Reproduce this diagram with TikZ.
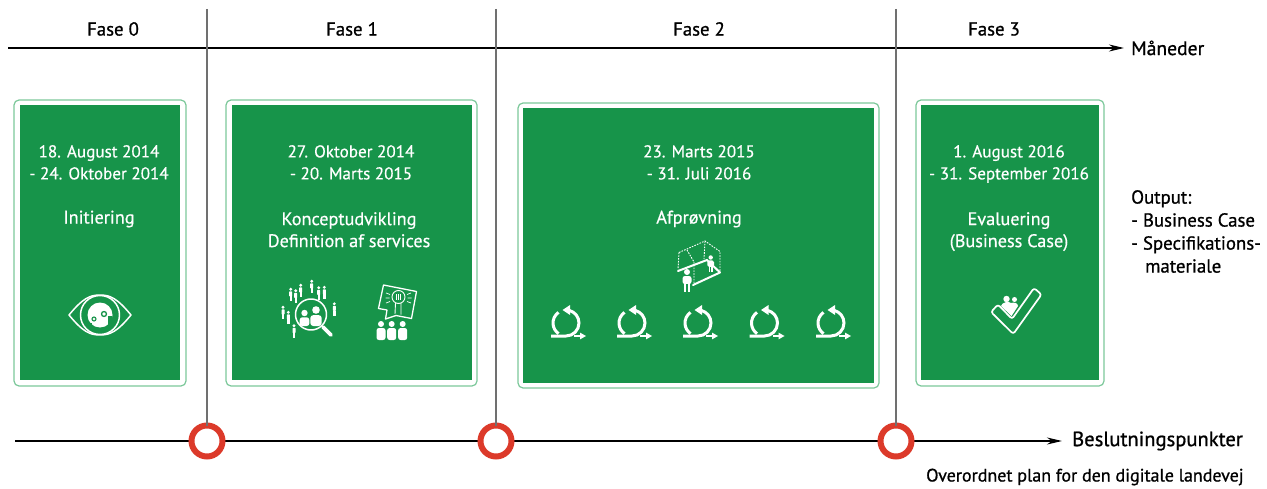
\documentclass[tikz,border=0pt]{standalone}
\usepackage{fontspec}
\setmainfont{PT Sans}
\newfontfamily\blackface{PT Sans}[FakeBold=0.9]
\newfontfamily\whiteface{PT Sans}[FakeBold=0.5]
\usetikzlibrary{arrows.meta,calc}
\definecolor{boxgreen}{HTML}{17944A}
\definecolor{edgegreen}{HTML}{7CC89A}
\definecolor{ringred}{HTML}{DC3A2A}
\definecolor{divider}{HTML}{707070}
\newcommand{\datesz}{\whiteface\fontsize{17.1}{22}\selectfont}
\newcommand{\titlesz}{\whiteface\fontsize{18.2}{22}\selectfont}
\newcommand{\blacksz}{\blackface\fontsize{18.8}{23}\selectfont}
\newcommand{\smallp}[2]{%
  \fill[white] (#1,#2-5.2) circle (1.6);
  \fill[white,rounded corners=.7] (#1-1.5,#2-3.2) rectangle (#1+1.5,#2+2);
  \fill[white] (#1-1.2,#2+1.5) rectangle (#1+1.2,#2+6.5);}
\newcommand{\bigp}[4]{% x, head y, radius, bottom y
  \fill[white] (#1,#2) circle (#3);
  \fill[white,rounded corners=#3*.8] (#1-#3*1.5,#4) -- (#1-#3*1.5,#2+#3*1.35) -- (#1+#3*1.5,#2+#3*1.35) -- (#1+#3*1.5,#4) -- cycle;}
\newcommand{\loopicon}[1]{%
  \begin{scope}[shift={(#1,323)}]
    \draw[draw=white,line width=3] (-7.46,-10.65) arc[radius=13,start angle=-125,end angle=-235];
    \draw[draw=white,line width=3] (-15,13) -- (0,13) arc[radius=13,start angle=90,end angle=-75];
    \fill[white] (4,-8) -- (-3.5,-13) -- (4,-18) -- cycle;
    \draw[draw=white,line width=2.4] (8,13) -- (15,13);
    \fill[white] (14,9.6) -- (20,13) -- (14,16.4) -- cycle;
  \end{scope}}
\tikzset{
  x=1pt,y=-1pt,
  icon/.style={draw=white,line width=1.5,line cap=round,line join=round},
  outerbox/.style={draw=edgegreen,fill=white,line width=1.2,rounded corners=5,inner sep=0,outer sep=0},
  innerbox/.style={fill=boxgreen,inner sep=0,outer sep=0},
  datetext/.style={text=white,align=center,font=\datesz,inner sep=0},
  greentext/.style={text=white,align=center,font=\titlesz,inner sep=0},
  blacktext/.style={text=black,align=left,font=\blacksz,inner sep=0},
  axis/.style={draw=black,line width=1.9,-{Stealth[length=15,width=7]}},
  divline/.style={draw=divider,line width=1.2},
  ring/.style={circle,draw=ringred,fill=white,line width=6,minimum size=31,inner sep=0,outer sep=0},
}
\begin{document}
\begin{tikzpicture}
\useasboundingbox (0,0) rectangle (1267,489);
% axes
\coordinate (topstart) at (8,48);
\coordinate (topend) at (1124,48);
\coordinate (botstart) at (15,441);
\coordinate (botend) at (1062,441);
\draw[axis] (topstart) -- (topend);
\draw[axis] (botstart) -- (botend);
% rings and dividers
\coordinate (d1) at (207,9);
\coordinate (d2) at (496,9);
\coordinate (d3) at (896,9);
\node[ring] (r1) at (207,441) {};
\node[ring] (r2) at (496,441) {};
\node[ring] (r3) at (896,441) {};
\draw[divline] (d1) -- (r1);
\draw[divline] (d2) -- (r2);
\draw[divline] (d3) -- (r3);
% headings
\node[blacktext] (f0) at (113,29) {Fase 0};
\node[blacktext] (f1) at (352,29) {Fase 1};
\node[blacktext] (f2) at (699,29) {Fase 2};
\node[blacktext] (f3) at (994,29) {Fase 3};
\node[blacktext,anchor=west,font=\blackface\fontsize{19.6}{23}\selectfont] (mon) at (1131,48) {Måneder};
\node[blacktext,anchor=west,font=\blackface\fontsize{20.6}{23}\selectfont] (bes) at (1072,441) {Beslutningspunkter};
\node[blacktext,anchor=west,font=\blackface\fontsize{18}{23}\selectfont] (ovr) at (926,477) {Overordnet plan for den digitale landevej};
\node[blacktext,anchor=north west] (out) at (1131,190) {Output:\\- Business Case\\- Specifikations-\\\hspace*{14pt}materiale};
% boxes
\node[outerbox,minimum width=172,minimum height=286] (o0) at (100,243) {};
\node[innerbox,minimum width=160,minimum height=275] (b0) at (100,242.5) {};
\node[outerbox,minimum width=251,minimum height=286] (o1) at (351.5,243) {};
\node[innerbox,minimum width=240,minimum height=275] (b1) at (352,242.5) {};
\node[outerbox,minimum width=361,minimum height=285] (o2) at (698.5,245.5) {};
\node[innerbox,minimum width=351,minimum height=275] (b2) at (698.5,245.5) {};
\node[outerbox,minimum width=188,minimum height=286] (o3) at (1010,243) {};
\node[innerbox,minimum width=178,minimum height=275] (b3) at (1010,242.5) {};
% box texts
\node[datetext,anchor=north] (t0) at (99,145) {18. August 2014\\- 24. Oktober 2014};
\node[greentext] (n0) at (99,219) {Initiering};
\node[datetext,anchor=north] (t1) at (351,145) {27. Oktober 2014\\- 20. Marts 2015};
\node[greentext,anchor=north] (n1) at (349,212) {Konceptudvikling\\Definition af services};
\node[datetext,anchor=north] (t2) at (699,145) {23. Marts 2015\\- 31. Juli 2016};
\node[greentext] (n2) at (699,219) {Afprøvning};
\node[datetext,anchor=north] (t3) at (1009,145) {1. August 2016\\- 31. September 2016};
\node[greentext,anchor=north] (n3) at (1009,212) {Evaluering\\(Business Case)};
% eye icon
\draw[icon] (69,315) .. controls (83,298) and (90,295) .. (100,295) .. controls (110,295) and (117,298) .. (131,315) .. controls (117,332) and (110,335) .. (100,335) .. controls (90,335) and (83,332) .. (69,315) -- cycle;
\draw[icon] (100,315) circle (19.5);
\fill[white] (100,315) circle (12.5);
\fill[boxgreen] (104,314) circle (3.2);
\fill[boxgreen] (94,319) circle (2.6);
\fill[boxgreen] (89,323) rectangle (92,328);
\fill[boxgreen] (108,316) rectangle (112,325);
\fill[white] (104,314) circle (1.8);
\fill[white] (94,319) circle (1.3);
% magnifier icon
\draw[icon] (311,314.5) circle (15.5);
\draw[draw=white,line width=3.6,line cap=round] (323,327) -- (331,335);
\bigp{304.5}{313}{3.2}{326}
\bigp{316}{310}{3.8}{326}
\smallp{290.7}{294.5}\smallp{295.7}{296}\smallp{300.7}{290.5}\smallp{311.7}{286.5}\smallp{318.7}{293}\smallp{324.3}{292.5}\smallp{334.3}{309}\smallp{283}{312.5}\smallp{288.3}{317.5}\smallp{294}{331}
% idea icon
\draw[icon,line width=1.3] (383.5,285) -- (416.5,291.5) -- (411.5,318.5) -- (396,315.5) -- (385.5,319) -- (387,310) -- (378.5,308.5) -- cycle;
\draw[draw=white,line width=.9] (398.5,297) circle (6.5);
\draw[draw=white,line width=.9] (395.5,303) -- (395,314) (401,303) -- (401,314.5);
\draw[draw=white,line width=.8] (396.5,294.5) -- (396.5,300) (398.5,294.5) -- (398.5,300) (400.5,294.5) -- (400.5,300);
\draw[draw=white,line width=.7] (386,293) -- (390,294.5) (385.5,298) -- (389.5,298) (386,303) -- (390,301.5) (407,294.5) -- (411,293) (407.5,298) -- (411.5,298) (407,301.5) -- (411,303);
\bigp{381}{324}{3}{340}
\bigp{391.7}{324}{3}{340}
\bigp{402.7}{324}{3}{340}
% frame icon
\draw[draw=white,line width=.9,dash pattern=on 1.6 off 1.2] (679,252.5) -- (705,241) -- (720,251.5) -- (720,272) (679,252.5) -- (678,269.5) (705,241) -- (704,259) (687,250) -- (694,262) (694,262) -- (694,283);
\draw[icon,line width=2] (678,271) -- (707,260) -- (720,272.5) -- (693,285);
\bigp{687}{272}{3}{284}
\fill[white] (683.8,282) rectangle (686.4,292);
\fill[white] (687.6,282) rectangle (690.2,292);
\bigp{710.7}{257.5}{2.2}{267}
\fill[white] (708.6,266) rectangle (710.3,272.5);
\fill[white] (711.2,266) rectangle (712.9,272.5);
% loop icons
\loopicon{566}
\loopicon{632}
\loopicon{698}
\loopicon{764.5}
\loopicon{831}
% check icon
\draw[icon,line width=1.7,rounded corners=2.5] (1013.3,334) -- (991,312) -- (998,304.5) -- (1012,319) -- (1034,288) -- (1041.5,294.5) -- cycle;
\fill[white] (1006.5,299) circle (3.2);
\fill[white] (1014.5,299.5) circle (2.5);
\fill[white] (1001,306) .. controls (1002,302) and (1009,301) .. (1011,303) .. controls (1014,302) and (1018,303) .. (1018,306) -- (1011.5,316) -- cycle;
\end{tikzpicture}
\end{document}
